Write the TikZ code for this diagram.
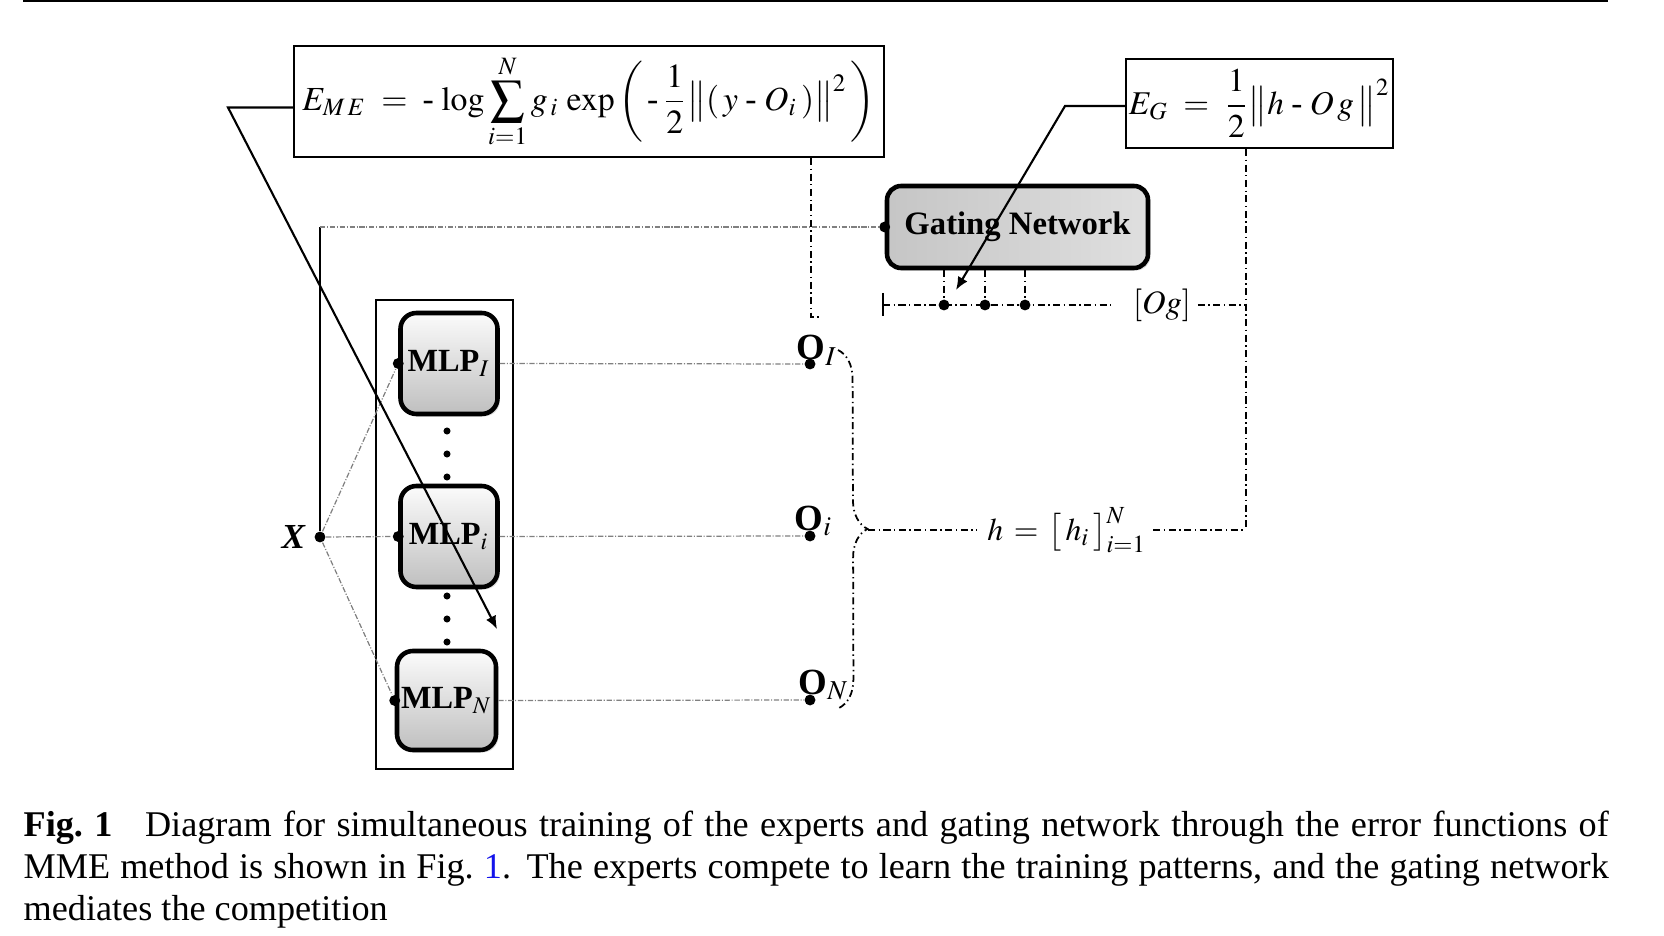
\documentclass[tikz,border=0pt]{standalone}
\usepackage{mathptmx}
\usepackage{fontspec}
\setmainfont{Liberation Serif}
\usetikzlibrary{arrows.meta,positioning,calc,shadows,decorations.pathreplacing}
\definecolor{figlink}{RGB}{20,20,235}

\begin{document}
\begin{tikzpicture}[
    io dot/.style={circle, fill=black, inner sep=0pt, minimum size=3.1pt},
    small dot/.style={circle, fill=black, inner sep=0pt, minimum size=2pt},
    eq box/.style={draw, line width=0.6pt, inner sep=0pt},
    net box/.style={draw, line width=1.3pt, rounded corners=4.5pt, inner sep=0pt,
        top color=gray!3, bottom color=gray!50,
        drop shadow={shadow xshift=0.7pt, shadow yshift=-0.7pt, fill=gray!55}},
    wire/.style={gray, line width=0.35pt, dash pattern=on 1.5pt off 0.5pt on 0.3pt off 0.5pt},
    sig line/.style={line width=0.5pt, dash pattern=on 2pt off 1pt on 0.4pt off 1pt},
    err arrow/.style={-{Latex[length=1.3mm, width=1.1mm]}, line width=0.6pt},
]

% Page frame and top rule
\useasboundingbox (0,0) rectangle (16.64,-9.36);
\draw[line width=0.6pt] (0.23,-0.01) -- (16.08,-0.01);

% Error functions
\node[eq box, minimum width=5.9cm, minimum height=1.11cm, font=\fontsize{9.6}{11.5}\selectfont] (eme) at (5.89,-1.015)
    {$\displaystyle E_{M\,E} \;=\; \mbox{-}\,\log \sum_{i=1}^{N} g_{\,i}\,\exp\left(\,\mbox{-}\,\frac{1}{2}\bigl\|(\, y \;\mbox{-}\; O_i \,)\bigr\|^{2}\,\right)$};
\node[eq box, minimum width=2.67cm, minimum height=0.89cm, font=\fontsize{9.45}{11.5}\selectfont] (eg) at (12.595,-1.035)
    {$\displaystyle E_G \;=\; \frac{1}{2}\bigl\|h \;\mbox{-}\; O\,g\,\bigr\|^{2}$};

% Gating network
\node[net box, minimum width=2.61cm, minimum height=0.82cm, rounded corners=4pt,
      left color=gray!45, middle color=gray!8, right color=gray!25,
      font=\fontsize{9.3}{11}\selectfont\bfseries] (gate) at (10.175,-2.27) {Gating Network};
\node[io dot] (gin) at (gate.west) {};

% Experts
\node[draw, line width=0.6pt, minimum width=1.37cm, minimum height=4.69cm] (experts) at (4.445,-5.345) {};
\node[net box, minimum width=0.97cm, minimum height=1.01cm, font=\fontsize{9.2}{11}\selectfont] (mlp1) at (4.49,-3.635) {\textbf{MLP}$_{I}$};
\node[net box, minimum width=0.97cm, minimum height=1.01cm, font=\fontsize{9.2}{11}\selectfont] (mlpi) at (4.49,-5.365) {\textbf{MLP}$_{i}$};
\node[net box, minimum width=0.99cm, minimum height=0.99cm, font=\fontsize{9.2}{11}\selectfont] (mlpN) at (4.465,-7.005) {\textbf{MLP}$_{N}$};
\foreach \m in {1,i,N}
    \node[io dot] (in\m) at (mlp\m.west) {};
\foreach \y [count=\k] in {-4.31,-4.54,-4.77,-5.96,-6.19,-6.42}
    \node[small dot] (vd\k) at (4.47,\y) {};

% Input X
\node[io dot] (x) at (3.20,-5.37) {};
\node[left=0.08cm of x, inner sep=0pt, font=\fontsize{10}{12}\selectfont\bfseries\itshape] (xlab) {X};
\coordinate (xtop) at (3.20,-2.27);
\draw[line width=0.6pt] (x) -- (xtop);
\draw[wire] (xtop) -- (gin);
\foreach \m in {1,i,N}
    \draw[wire] (x) -- (in\m);

% Expert outputs
\node[io dot] (o1) at (8.10,-3.64) {};
\node[io dot] (oi) at (8.10,-5.36) {};
\node[io dot] (oN) at (8.10,-7.00) {};
\foreach \m in {1,i,N}
    \draw[wire] (mlp\m.east) -- (o\m);
\node[anchor=base west, inner sep=0pt, font=\fontsize{10.5}{12}\selectfont] (o1lab) at ([xshift=-0.14cm, yshift=0.04cm]o1.center) {\textbf{O}$_{I}$};
\node[anchor=base west, inner sep=0pt, font=\fontsize{10.5}{12}\selectfont] (oilab) at ([xshift=-0.16cm, yshift=0.06cm]oi.center) {\textbf{O}$_{i}$};
\node[anchor=base west, inner sep=0pt, font=\fontsize{10.5}{12}\selectfont] (oNlab) at ([xshift=-0.12cm, yshift=0.06cm]oN.center) {\textbf{O}$_{N}$};

% Gating outputs
\coordinate (ogl) at (8.83,-3.05);
\draw[line width=0.6pt] ([yshift=0.12cm]ogl) -- ([yshift=-0.11cm]ogl);
\node[inner sep=0pt, font=\fontsize{9.3}{11}\selectfont] (og) at (11.62,-3.05) {$[Og]$};
\draw[sig line] (ogl) -- ([xshift=-0.2cm]og.west);
\foreach \gx [count=\k] in {9.44,9.85,10.25} {
    \node[io dot] (g\k) at (\gx,-3.05) {};
    \draw[sig line] (g\k |- gate.south) -- (g\k);
}

% Combined expert output h
\draw[sig line, decorate, decoration={brace, amplitude=0.29cm}] (8.38,-3.50) -- (8.39,-7.08);
\coordinate (htip) at (8.68,-5.30);
\node[inner sep=0pt, font=\fontsize{9}{11}\selectfont] (h) at (10.67,-5.30) {$h \,=\, \bigl[\,h_{i}\,\bigr]_{i=1}^{N}$};
\draw[sig line] (htip) -- ([xshift=-0.1cm]h.west);

% Feedback to the error functions
\coordinate (efoot) at (8.11,-3.17);
\draw[sig line] (eme.south -| efoot) -- (efoot) -- ++(0.09,0);
\coordinate (fb) at (12.46,-5.30);
\draw[sig line] (eg.south -| fb) -- (fb);
\draw[sig line] ([xshift=0.06cm]og.east) -- (og.east -| fb);
\draw[sig line] ([xshift=0.06cm]h.east) -- (fb);

% Error arrows
\coordinate (ebend) at (2.28,-1.075);
\coordinate (etip) at (4.97,-6.29);
\draw[err arrow] (ebend -| eme.west) -- (ebend) -- (etip);
\coordinate (gbend) at (10.65,-1.06);
\coordinate (gtip) at (9.56,-2.90);
\draw[err arrow] (gbend -| eg.west) -- (gbend) -- (gtip);

% Caption
\node[anchor=north west, inner sep=0pt, text width=15.85cm, align=justify,
      font=\fontsize{10.3}{12.05}\selectfont] (cap) at (0.23,-8.10)
    {\textbf{Fig.~1}\hspace{0.9em}Diagram for simultaneous training of the experts and gating network through the error functions of\linebreak
     MME method is shown in Fig.~\textcolor{figlink}{1}. The experts compete to learn the training patterns, and the gating network\linebreak
     mediates the competition};

\end{tikzpicture}
\end{document}
